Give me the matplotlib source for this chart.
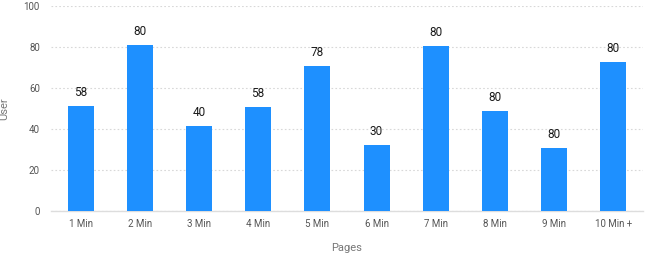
import matplotlib.pyplot as plt
import numpy as np

plt.rcParams['font.family'] = ['Roboto', 'DejaVu Sans']

pages = ['1 Min', '2 Min', '3 Min', '4 Min', '5 Min', '6 Min', '7 Min', '8 Min', '9 Min', '10 Min +']
users = [51, 81, 41.3, 50.7, 70.7, 32, 80.6, 48.9, 30.8, 72.8]
labels = ['58', '80', '40', '58', '78', '30', '80', '80', '80', '80']


def main():
    fig = plt.figure(figsize=(6.58, 2.59), dpi=100)
    ax = fig.add_axes([0.0775, 0.1865, 0.8995, 0.79])

    x = np.arange(len(pages))
    bars = ax.bar(x, users, width=0.44, color='#1E90FF', zorder=3)

    for b, lab in zip(bars, labels):
        ax.annotate(lab, (b.get_x() + b.get_width() / 2, b.get_height()),
                    xytext=(0, 5), textcoords='offset points',
                    ha='center', va='bottom', fontsize=8.5, color='#1a1a1a')

    ax.set_xlim(-0.5, len(pages) - 0.5)
    ax.set_ylim(0, 100)
    ax.set_yticks([0, 20, 40, 60, 80, 100])
    ax.set_xticks(x)
    ax.set_xticklabels(pages)
    ax.tick_params(axis='both', length=0, labelsize=7, colors='#555555')
    ax.tick_params(axis='x', pad=6)
    ax.tick_params(axis='y', pad=8)

    ax.yaxis.grid(True, linestyle=(0, (1.5, 2)), color='#d8d8d8', linewidth=0.8, zorder=0)
    for s in ['top', 'right', 'left']:
        ax.spines[s].set_visible(False)
    ax.spines['bottom'].set_color('#dddddd')
    ax.spines['bottom'].set_linewidth(1)

    ax.set_xlabel('Pages', fontsize=8, color='#777777', labelpad=10)
    ax.set_ylabel('User', fontsize=8, color='#777777', labelpad=10)

    plt.savefig('out.png', dpi=100)
    plt.close()


if __name__ == "__main__":
    main()
